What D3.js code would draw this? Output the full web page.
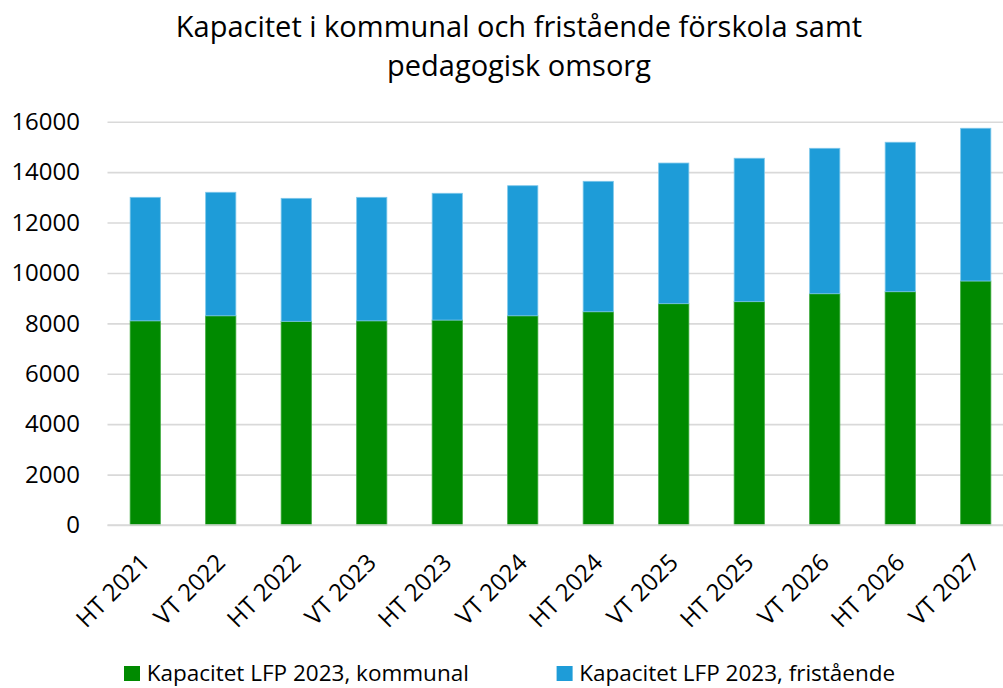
<!DOCTYPE html>
<html><head><meta charset="utf-8">
<script src="https://cdn.jsdelivr.net/npm/d3@7"></script>
<style>body{margin:0;background:#fff;} svg{display:block;}</style>
</head><body>
<svg id="chart" width="1003" height="688"></svg>
<script>
const categories = ["HT 2021","VT 2022","HT 2022","VT 2023","HT 2023","VT 2024","HT 2024","VT 2025","HT 2025","VT 2026","HT 2026","VT 2027"];
const kommunal = [8100, 8300, 8080, 8100, 8130, 8300, 8460, 8780, 8860, 9175, 9255, 9680];
const fristaende = [4900, 4900, 4880, 4900, 5030, 5160, 5175, 5580, 5690, 5770, 5930, 6060];
const yTicks = [0, 2000, 4000, 6000, 8000, 10000, 12000, 14000, 16000];
const seriesNames = ["Kapacitet LFP 2023, kommunal", "Kapacitet LFP 2023, fristående"];
const colors = ["#008A00", "#1E9CD8"];
const strokes = ["#3aa83a", "#7cc6ea"];
const titleLines = ["Kapacitet i kommunal och fristående förskola samt", "pedagogisk omsorg"];

const FONT = "'Open Sans', 'Noto Sans', sans-serif";
const svg = d3.select("#chart");
const x = d3.scaleBand().domain(categories).range([107.5, 1013.5]).paddingInner(0.6).paddingOuter(0.3);
const y = d3.scaleLinear().domain([0, 16000]).range([525, 121.7]);

// title
svg.append("g").selectAll("text").data(titleLines).join("text")
  .attr("x", 519).attr("y", (d,i) => 36.7 + i*39.5)
  .attr("text-anchor", "middle").attr("font-family", FONT).attr("font-size", 29).attr("fill", "#000")
  .text(d => d);

// grid
const yAxis = d3.axisLeft(y).tickValues(yTicks).tickSize(-(1013.5-107.5)).tickFormat(d3.format("d"));
const gy = svg.append("g").attr("transform", "translate(107.5,0)").call(yAxis);
gy.select(".domain").remove();
gy.selectAll(".tick line").attr("stroke", "#d9d9d9").attr("stroke-width", 1.6);
gy.selectAll(".tick text").attr("x", -27.5).attr("font-family", FONT).attr("font-size", 24).attr("fill", "#000");

// stacked bars
const data = categories.map((c,i) => ({cat: c, kommunal: kommunal[i], fristaende: fristaende[i]}));
const stack = d3.stack().keys(["kommunal","fristaende"])(data);
svg.append("g").selectAll("g").data(stack).join("g")
  .attr("fill", (d,i) => colors[i]).attr("stroke", (d,i) => strokes[i]).attr("stroke-width", 0.8)
  .selectAll("rect").data(d => d).join("rect")
  .attr("x", d => x(d.data.cat)).attr("width", x.bandwidth())
  .attr("y", d => y(d[1])).attr("height", d => y(d[0]) - y(d[1]));

// x labels
const xAxis = d3.axisBottom(x).tickSize(0);
const gx = svg.append("g").attr("transform", "translate(0,525)").call(xAxis);
gx.select(".domain").attr("stroke", "#d9d9d9").attr("stroke-width", 1.6).attr("d", "M107.5,0H1013.5");
gx.selectAll(".tick text")
  .attr("font-family", FONT).attr("font-size", 24).attr("fill", "#000")
  .attr("text-anchor", "end").attr("x", 0).attr("y", 0).attr("dy", 0)
  .attr("transform", "translate(6,39) rotate(-45)");

// legend
const legX = [124, 556.6];
const lg = svg.append("g").selectAll("g").data(seriesNames).join("g")
  .attr("transform", (d,i) => `translate(${legX[i]},666)`);
lg.append("rect").attr("width", 16).attr("height", 15).attr("fill", (d,i) => colors[i]);
lg.append("text").attr("x", 22.7).attr("y", 15).attr("font-family", FONT).attr("font-size", 22.5).attr("fill", "#000").text(d => d);
</script>
</body></html>
